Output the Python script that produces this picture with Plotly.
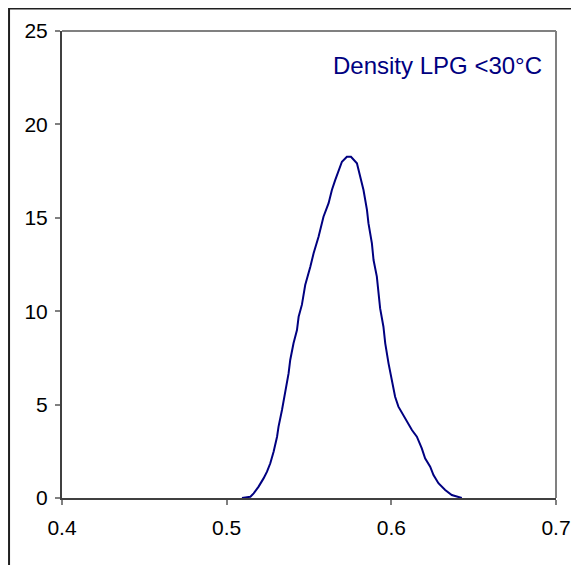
import plotly.graph_objects as go

# Density curve
density_x = [0.5093, 0.5144, 0.5164, 0.5194, 0.5224, 0.5245, 0.5265, 0.5285, 0.5306, 0.5315,
             0.5336, 0.5356, 0.5376, 0.5386, 0.5406, 0.5427, 0.5437, 0.5457, 0.5477, 0.5508,
             0.5528, 0.5558, 0.5588, 0.5619, 0.5639, 0.5659, 0.5679, 0.5700, 0.5730, 0.5755,
             0.5791, 0.5811, 0.5831, 0.5852, 0.5861, 0.5882, 0.5892, 0.5912, 0.5922, 0.5932,
             0.5952, 0.5963, 0.5983, 0.6003, 0.6023, 0.6043, 0.6084, 0.6125, 0.6155, 0.6185,
             0.6205, 0.6236, 0.6256, 0.6286, 0.6327, 0.6367, 0.6428]
density_y = [0.00, 0.07, 0.25, 0.61, 1.05, 1.41, 1.86, 2.48, 3.28, 3.82,
             4.71, 5.60, 6.67, 7.39, 8.28, 8.99, 9.70, 10.35, 11.40, 12.38,
             13.10, 13.99, 15.06, 15.78, 16.49, 17.02, 17.56, 18.00, 18.27, 18.27,
             17.92, 17.20, 16.49, 15.42, 14.71, 13.63, 12.74, 11.85, 10.78, 10.15,
             9.17, 8.28, 7.21, 6.23, 5.42, 4.89, 4.27, 3.64, 3.28, 2.66,
             2.13, 1.68, 1.23, 0.79, 0.43, 0.16, 0.00]

x_ticks = [0.4, 0.5, 0.6, 0.7]
y_ticks = [0, 5, 10, 15, 20, 25]
label = "Density LPG <30°C"

navy = "#000080"
font = "Liberation Sans, Arial, sans-serif"

fig = go.Figure()
fig.add_trace(go.Scatter(x=density_x, y=density_y, mode="lines",
                         line=dict(color=navy, width=2), showlegend=False,
                         hoverinfo="skip"))

axis_common = dict(showgrid=False, zeroline=False, showline=True,
                   linecolor="#404040", linewidth=2, ticks="outside",
                   ticklen=5, tickwidth=1.5, tickcolor="#808080",
                   tickfont=dict(family=font, size=21, color="black"))

fig.update_xaxes(range=[0.4, 0.7], tickvals=x_ticks,
                 ticktext=[f"{v:.1f}" for v in x_ticks],
                 ticklabelstandoff=5, **axis_common)
fig.update_yaxes(range=[0, 25], tickvals=y_ticks,
                 ticktext=[str(v) for v in y_ticks],
                 ticklabelstandoff=3, **axis_common)

# gray plot-area border (top and right)
fig.add_shape(type="line", xref="paper", yref="paper", x0=0, x1=1, y0=1, y1=1,
              line=dict(color="#808080", width=2))
fig.add_shape(type="line", xref="paper", yref="paper", x0=1, x1=1, y0=0, y1=1,
              line=dict(color="#808080", width=2))
# outer chart frame (left and top visible)
fig.add_shape(type="rect", xref="paper", yref="paper", x0=-0.1072, x1=1.2,
              y0=-0.3, y1=1.0482, line=dict(color="#202020", width=2), layer="below")

fig.add_annotation(text=label, xref="paper", yref="paper", x=0.976, y=0.927,
                   xanchor="right", yanchor="middle", showarrow=False,
                   font=dict(family=font, size=24, color=navy))

fig.update_layout(width=579, height=565, margin=dict(l=53.5, r=31, t=23, b=75),
                  paper_bgcolor="white", plot_bgcolor="white")

fig.write_html("out.html")
